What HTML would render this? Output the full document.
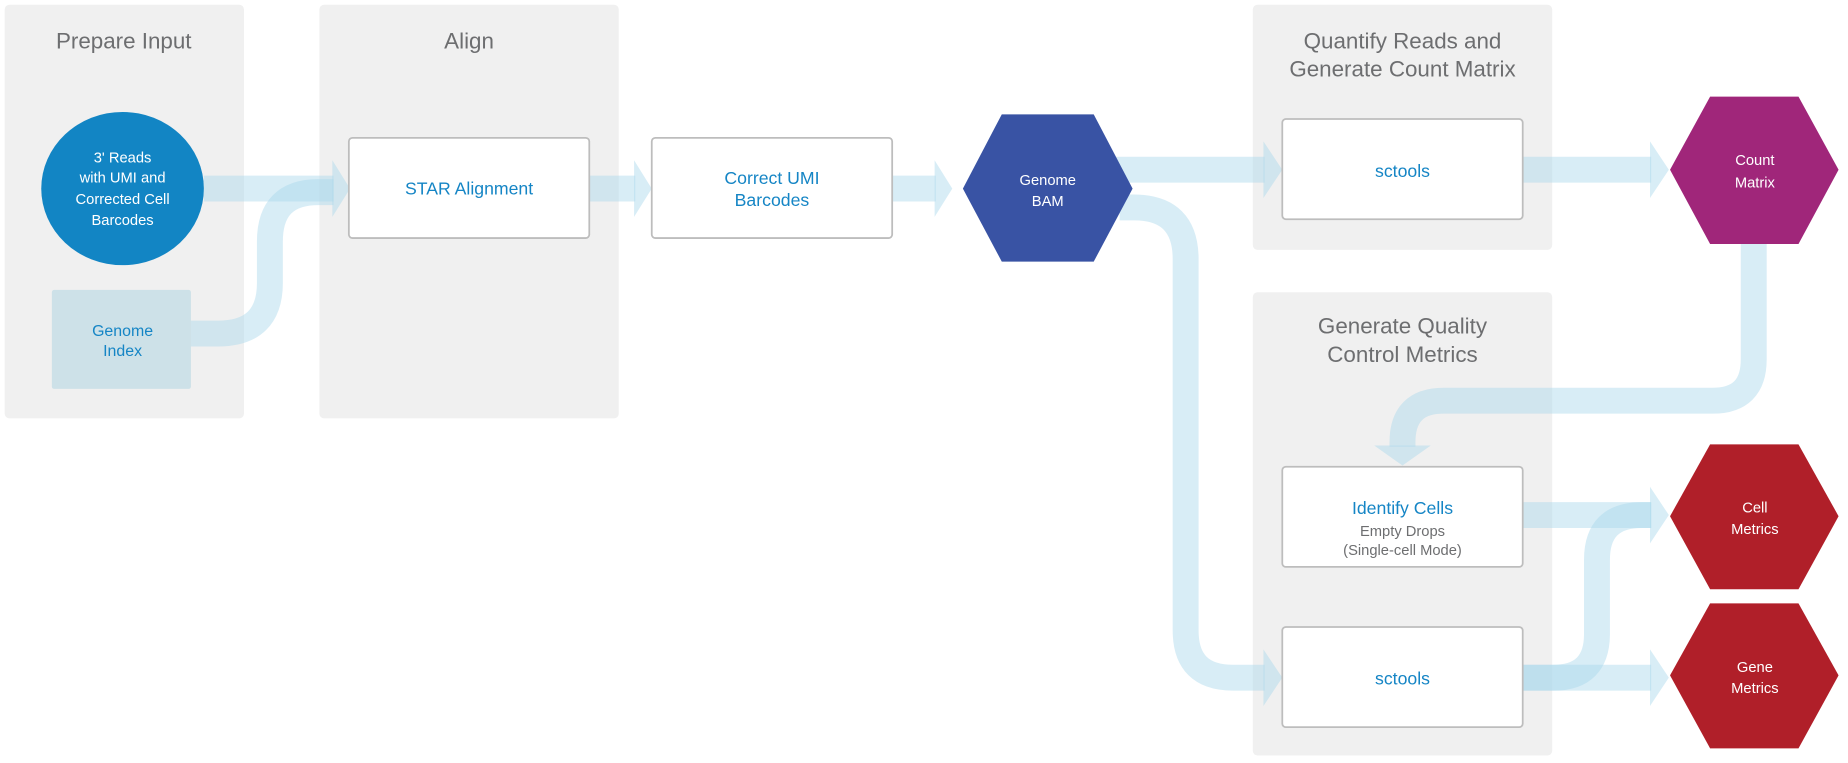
<!DOCTYPE html>
<html><head><meta charset="utf-8"><style>
html,body{margin:0;padding:0;background:#fff;}
svg{display:block;}
text{font-family:"Liberation Sans",sans-serif;text-anchor:middle;}
.t{fill:#6d6e70;font-size:19px;}
.b{fill:#1585c5;font-size:15px;}
.w{fill:#fff;font-size:12.5px;}
.g{fill:#6d6e70;font-size:12.5px;}
.box{fill:#fff;stroke:#bdbdbd;stroke-width:1.5;}
.band{fill:none;stroke:#a8d8ea;stroke-opacity:.45;stroke-width:22;}
.head{fill:#a8d8ea;fill-opacity:.45;}
</style></head><body>
<svg width="1848" height="763" viewBox="0 0 1568 647.4" preserveAspectRatio="none" xmlns="http://www.w3.org/2000/svg">
<!-- panels -->
<rect x="4" y="4" width="203" height="351" rx="4" fill="#f0f0f0"/>
<rect x="271" y="4" width="254" height="351" rx="4" fill="#f0f0f0"/>
<rect x="1063" y="4" width="254" height="208" rx="4" fill="#f0f0f0"/>
<rect x="1063" y="248" width="254" height="393" rx="4" fill="#f0f0f0"/>
<text class="t" x="105" y="41">Prepare Input</text>
<text class="t" x="398" y="41">Align</text>
<text class="t" x="1190" y="41">Quantify Reads and</text>
<text class="t" x="1190" y="65">Generate Count Matrix</text>
<text class="t" x="1190" y="283">Generate Quality</text>
<text class="t" x="1190" y="307">Control Metrics</text>

<!-- nodes -->
<ellipse cx="104" cy="160" rx="69" ry="65" fill="#1285c4"/>
<text class="w" x="104" y="138">3' Reads</text>
<text class="w" x="104" y="155">with UMI and</text>
<text class="w" x="104" y="173">Corrected Cell</text>
<text class="w" x="104" y="191">Barcodes</text>
<rect x="44" y="246" width="118" height="84" rx="2" fill="#cde1e8"/>
<text class="b" x="104" y="285" style="font-size:13.5px">Genome</text>
<text class="b" x="104" y="302" style="font-size:13.5px">Index</text>

<!-- bands -->
<path class="band" d="M173,160 H283"/>
<path class="band" d="M162,283 H185 Q229,283 229,240 V205 Q229,163 270,163 H283"/>
<polygon class="head" points="282,136 297,160 282,184"/>
<path class="band" d="M500,160 H539"/>
<polygon class="head" points="538,136 553,160 538,184"/>
<path class="band" d="M757,160 H794"/>
<polygon class="head" points="793,136 808,160 793,184"/>
<path class="band" d="M945,144 H1073"/>
<polygon class="head" points="1072,120 1088,144 1072,168"/>
<path class="band" d="M1292,144 H1401"/>
<polygon class="head" points="1400,120 1416,144 1400,168"/>
<path class="band" d="M950,176 H962 Q1006,176 1006,220 V535 Q1006,575 1046,575 H1073"/>
<polygon class="head" points="1072,551 1088,575 1072,599"/>
<path class="band" d="M1488,207 V305 Q1488,340 1453,340 H1225 Q1190,340 1190,375 V379"/>
<polygon class="head" points="1166,378 1190,395 1214,378"/>
<path class="band" d="M1292,437 H1401"/>
<polygon class="head" points="1400,413 1416,437 1400,461"/>
<path class="band" d="M1292,575 H1401"/>
<polygon class="head" points="1400,551 1416,575 1400,599"/>
<path class="band" d="M1292,575 H1318 Q1355,575 1355,538 V475 Q1355,437 1393,437 H1401"/>

<!-- boxes -->
<rect class="box" x="296" y="117" width="204" height="85" rx="3"/>
<text class="b" x="398" y="165">STAR Alignment</text>
<rect class="box" x="553" y="117" width="204" height="85" rx="3"/>
<text class="b" x="655" y="156">Correct UMI</text>
<text class="b" x="655" y="175">Barcodes</text>
<rect class="box" x="1088" y="101" width="204" height="85" rx="3"/>
<text class="b" x="1190" y="150">sctools</text>
<rect class="box" x="1088" y="396" width="204" height="85" rx="3"/>
<text class="b" x="1190" y="436">Identify Cells</text>
<text class="g" x="1190" y="455">Empty Drops</text>
<text class="g" x="1190" y="471">(Single-cell Mode)</text>
<rect class="box" x="1088" y="532" width="204" height="85" rx="3"/>
<text class="b" x="1190" y="581">sctools</text>

<!-- hexes -->
<polygon points="850,97 928,97 961,160 928,222 850,222 817,160" fill="#3953a4"/>
<text class="w" x="889" y="157">Genome</text>
<text class="w" x="889" y="175">BAM</text>
<polygon points="1451,82 1526,82 1560,144 1526,207 1451,207 1417,144" fill="#a0267a"/>
<text class="w" x="1489" y="140">Count</text>
<text class="w" x="1489" y="159">Matrix</text>
<polygon points="1451,377 1526,377 1560,438 1526,500 1451,500 1417,438" fill="#b01f29"/>
<text class="w" x="1489" y="435">Cell</text>
<text class="w" x="1489" y="453">Metrics</text>
<polygon points="1451,512 1526,512 1560,573 1526,635 1451,635 1417,573" fill="#b01f29"/>
<text class="w" x="1489" y="570">Gene</text>
<text class="w" x="1489" y="588">Metrics</text>
</svg>
</body></html>
